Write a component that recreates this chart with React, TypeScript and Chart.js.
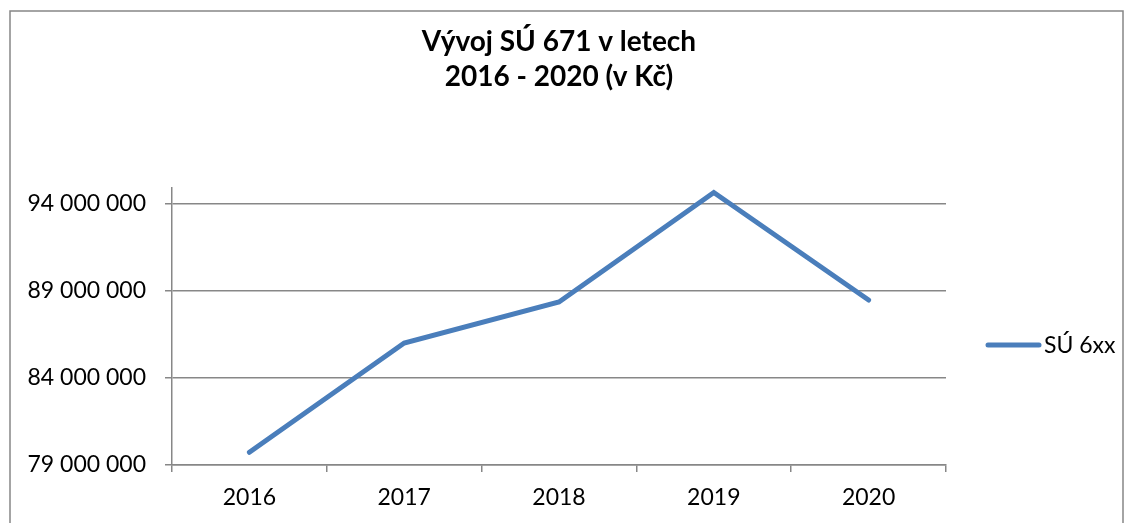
import React, { useEffect, useRef } from "react";
import { Chart, registerables } from "chart.js";

Chart.register(...registerables);

const titleLines = ["Vývoj SÚ 671 v letech", "2016 - 2020 (v Kč)"];
const categories = ["2016", "2017", "2018", "2019", "2020"];
const seriesLabel = "SÚ 6xx";
const seriesValues = [79730000, 86000000, 88360000, 94640000, 88470000];
const yTicks = [79000000, 84000000, 89000000, 94000000];
const yMin = 79000000;
const yMax = 94900000;

const FONT = "Lato, 'Open Sans', sans-serif";
const LINE_COLOR = "#4a7ebb";
const GRID_COLOR = "#878787";

function fmt(v: number): string {
  return Math.round(v).toString().replace(/\B(?=(\d{3})+(?!\d))/g, " ");
}

const decorPlugin = {
  id: "decor",
  afterDraw(chart: any) {
    const ctx = chart.ctx;
    const area = chart.chartArea;
    ctx.save();
    // outer frame
    ctx.strokeStyle = "#868686";
    ctx.lineWidth = 1.5;
    ctx.strokeRect(10, 11, 1113, 530);
    // title
    ctx.fillStyle = "#000";
    ctx.font = `bold 28px ${FONT}`;
    ctx.textAlign = "center";
    ctx.textBaseline = "alphabetic";
    const cx = (area.left + area.right) / 2;
    ctx.fillText(titleLines[0], cx, 51);
    ctx.fillText(titleLines[1], cx, 86);
    // legend
    const ds = chart.data.datasets[0];
    ctx.strokeStyle = ds.borderColor;
    ctx.lineWidth = 5;
    ctx.lineCap = "round";
    ctx.beginPath();
    ctx.moveTo(988, 345);
    ctx.lineTo(1039, 345);
    ctx.stroke();
    ctx.font = `23px ${FONT}`;
    ctx.textAlign = "left";
    ctx.fillText(ds.label, 1044, 353);
    ctx.restore();
  },
};

export default function App() {
  const ref = useRef<HTMLCanvasElement | null>(null);
  useEffect(() => {
    if (!ref.current) return;
    const chart = new Chart(ref.current, {
      type: "line",
      data: {
        labels: categories,
        datasets: [
          {
            label: seriesLabel,
            data: seriesValues,
            borderColor: LINE_COLOR,
            backgroundColor: LINE_COLOR,
            borderWidth: 5,
            borderCapStyle: "round",
            borderJoinStyle: "miter",
            pointRadius: 0,
            pointHoverRadius: 0,
            tension: 0,
            fill: false,
          },
        ],
      },
      options: {
        responsive: false,
        animation: false,
        events: [],
        layout: { padding: { top: 188, right: 186, left: 0, bottom: 0 } },
        plugins: {
          legend: { display: false },
          title: { display: false },
          tooltip: { enabled: false },
        },
        scales: {
          x: {
            type: "category",
            offset: true,
            afterFit: (s: any) => {
              s.height = 58;
            },
            grid: {
              offset: true,
              drawOnChartArea: false,
              drawTicks: true,
              tickLength: 7,
              color: GRID_COLOR,
              lineWidth: 1.5,
            },
            border: { display: true, color: GRID_COLOR, width: 1.5 },
            ticks: {
              color: "#000",
              padding: 12,
              font: { family: FONT, size: 23 },
              maxRotation: 0,
            },
          },
          y: {
            type: "linear",
            min: yMin,
            max: yMax,
            afterFit: (s: any) => {
              s.width = 172;
            },
            afterBuildTicks: (s: any) => {
              s.ticks = yTicks.map((v) => ({ value: v }));
            },
            grid: {
              drawTicks: true,
              tickLength: 7,
              color: GRID_COLOR,
              lineWidth: 1.5,
            },
            border: { display: true, color: GRID_COLOR, width: 1.5 },
            ticks: {
              color: "#000",
              padding: 19,
              font: { family: FONT, size: 23 },
              callback: (v: any) => fmt(Number(v)),
            },
          },
        },
      },
      plugins: [decorPlugin],
    });
    return () => chart.destroy();
  }, []);
  return (
    <div style={{ position: "absolute", left: 0, top: 0, width: 1132, height: 523, background: "#fff" }}>
      <canvas ref={ref} width={1132} height={523} style={{ display: "block" }} />
    </div>
  );
}
